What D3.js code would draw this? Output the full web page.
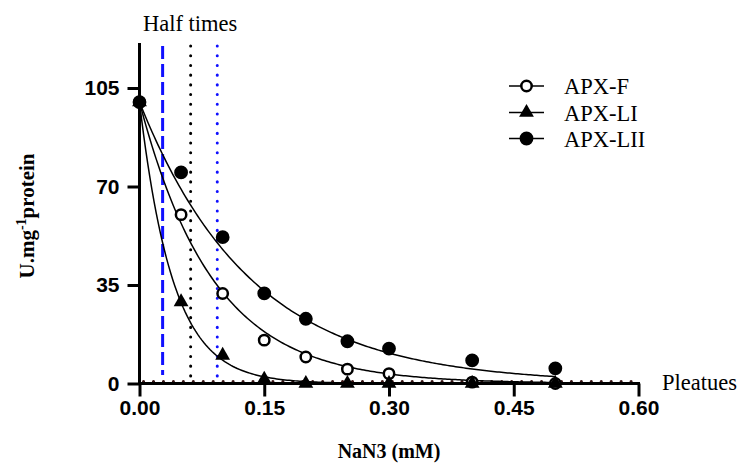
<!DOCTYPE html>
<html>
<head>
<meta charset="utf-8">
<script src="https://cdn.jsdelivr.net/npm/d3@7"></script>
<style>
body { margin: 0; background: #fff; }
</style>
</head>
<body>
<script>
'use strict';
// concentrations (mM)
const doses = [0, 0.05, 0.1, 0.15, 0.2, 0.25, 0.3, 0.4, 0.5];
// activity, U.mg-1 protein
const apxF = [100, 60, 32, 15.4, 9.4, 5.1, 3.5, 0.5, 0];
const apxLI = [100, 29, 10, 1.5, 0, 0, 0, 0, 0];
const apxLII = [100, 75, 52, 32, 23, 15, 12.4, 8.2, 5.4];
const seriesNames = ['APX-F', 'APX-LI', 'APX-LII'];
// fitted half times (mM) for one phase decay, plateau 0
const halfTimes = [0.0615, 0.0278, 0.0935];
const xTicks = [0, 0.15, 0.3, 0.45, 0.6];
const yTicks = [0, 35, 70, 105];

(function() {
    let svgContainer = '';
    let scales = {
        left: 139.5,
        right: 638.5,
        top: 43,
        bottom: 383.5
    }
    let serif = 'Liberation Serif, Times New Roman, serif';
    window.onload = () => {
        svgContainer = d3.select('body')
                        .append('svg')
                        .attr('width', 739)
                        .attr('height', 464)
        plotChart();
    }
    function plotChart() {
        let x_scale = d3.scaleLinear().domain([0, 0.6]).range([scales.left, scales.right]);
        let y_scale = d3.scaleLinear().domain([0, 105]).range([scales.bottom, 88]);

        // half time markers
        let styles = [
            {color: 'black', dash: '0.1,9.6', width: 3, cap: 'round', end: 0},
            {color: '#1010ff', dash: '13,5', width: 3, cap: 'butt', end: 3},
            {color: '#1010ff', dash: '0.1,9.6', width: 3, cap: 'round', end: 1}
        ];
        halfTimes.forEach((h, i) => {
            svgContainer.append('line')
                .attr('x1', x_scale(h)).attr('x2', x_scale(h))
                .attr('y1', scales.top + 3).attr('y2', y_scale(styles[i].end))
                .attr('stroke', styles[i].color)
                .attr('stroke-width', styles[i].width)
                .attr('stroke-linecap', styles[i].cap)
                .attr('stroke-dasharray', styles[i].dash);
        });

        // plateau line
        svgContainer.append('line')
            .attr('x1', x_scale(0) + 4).attr('x2', x_scale(0.6))
            .attr('y1', y_scale(0) - 2).attr('y2', y_scale(0) - 2)
            .attr('stroke', '#3a1515')
            .attr('stroke-width', 3)
            .attr('stroke-linecap', 'round')
            .attr('stroke-dasharray', '0.1,9.85');

        // fitted curves
        let xs = d3.range(0, 0.5001, 0.0025);
        halfTimes.forEach((h) => {
            let k = Math.LN2 / h;
            svgContainer.append('path')
                .datum(xs)
                .attr('fill', 'none')
                .attr('stroke', 'black')
                .attr('stroke-width', 1.5)
                .attr('d', d3.line()
                    .x((d) => x_scale(d))
                    .y((d) => y_scale(100 * Math.exp(-k * d))));
        });

        // axes
        let x_axis = d3.axisBottom(x_scale).tickValues(xTicks)
                        .tickFormat(d3.format('.2f')).tickSize(13).tickSizeOuter(0);
        let gx = svgContainer.append('g')
            .attr('transform', 'translate(0, ' + scales.bottom + ')')
            .call(x_axis);
        let y_axis = d3.axisLeft(y_scale).tickValues(yTicks).tickSize(12).tickSizeOuter(0);
        let gy = svgContainer.append('g')
            .attr('transform', 'translate(' + scales.left + ', 0)')
            .call(y_axis);
        gy.select('.domain').attr('d', 'M0,' + scales.top + 'V' + scales.bottom);
        [gx, gy].forEach((g) => {
            g.selectAll('.domain, line').attr('stroke', 'black').attr('stroke-width', 3);
            g.selectAll('text')
                .attr('fill', 'black')
                .style('font-family', 'Liberation Sans, Arial, sans-serif')
                .style('font-weight', 'bold')
                .style('font-size', '21px');
        });
        gx.select('.domain').attr('d', 'M' + (scales.left - 1.5) + ',0H' + (scales.right + 1.5));
        gx.selectAll('text').attr('y', 17);
        gy.selectAll('text').attr('x', -20);

        // points
        let symbols = [
            {type: d3.symbolCircle, size: 85, fill: 'white', stroke: 2.5},
            {type: d3.symbolTriangle, size: 95, fill: 'black', stroke: 0},
            {type: d3.symbolCircle, size: 150, fill: 'black', stroke: 0}
        ];
        [apxF, apxLI, apxLII].forEach((vals, i) => {
            svgContainer.selectAll('.pt' + i)
                .data(vals)
                .enter()
                .append('path')
                .attr('class', 'pt' + i)
                .attr('d', d3.symbol().type(symbols[i].type).size(symbols[i].size))
                .attr('transform', (d, j) => 'translate(' + x_scale(doses[j]) + ',' + y_scale(d) + ')')
                .attr('fill', symbols[i].fill)
                .attr('stroke', 'black')
                .attr('stroke-width', symbols[i].stroke);
        });

        // legend
        let legendY = [86, 112.5, 138.5];
        seriesNames.forEach((name, i) => {
            svgContainer.append('line')
                .attr('x1', 509).attr('x2', 544)
                .attr('y1', legendY[i]).attr('y2', legendY[i])
                .attr('stroke', 'black').attr('stroke-width', 1.5);
            svgContainer.append('path')
                .attr('d', d3.symbol().type(symbols[i].type).size(symbols[i].size))
                .attr('transform', 'translate(526.5,' + legendY[i] + ')')
                .attr('fill', symbols[i].fill)
                .attr('stroke', 'black')
                .attr('stroke-width', symbols[i].stroke);
            svgContainer.append('text')
                .attr('x', 564)
                .attr('y', legendY[i] + 8)
                .style('font-family', serif)
                .style('font-size', '22.5px')
                .text(name);
        });

        // labels
        svgContainer.append('text')
            .attr('x', 143).attr('y', 31)
            .style('font-family', serif)
            .style('font-size', '22.5px')
            .text('Half times');
        svgContainer.append('text')
            .attr('x', 662).attr('y', 390)
            .style('font-family', serif)
            .style('font-size', '22.5px')
            .text('Pleatues');
        svgContainer.append('text')
            .attr('x', 389).attr('y', 458)
            .attr('text-anchor', 'middle')
            .style('font-family', serif)
            .style('font-weight', 'bold')
            .style('font-size', '20px')
            .text('NaN3 (mM)');
        let yLabel = svgContainer.append('text')
            .attr('transform', 'translate(34, 216) rotate(-90)')
            .attr('text-anchor', 'middle')
            .style('font-family', serif)
            .style('font-weight', 'bold')
            .style('font-size', '21px');
        yLabel.append('tspan').text('U.mg');
        yLabel.append('tspan').attr('dy', -8).style('font-size', '14px').text('-1');
        yLabel.append('tspan').attr('dy', 8).text('protein');
    }
})();
</script>
</body>
</html>
